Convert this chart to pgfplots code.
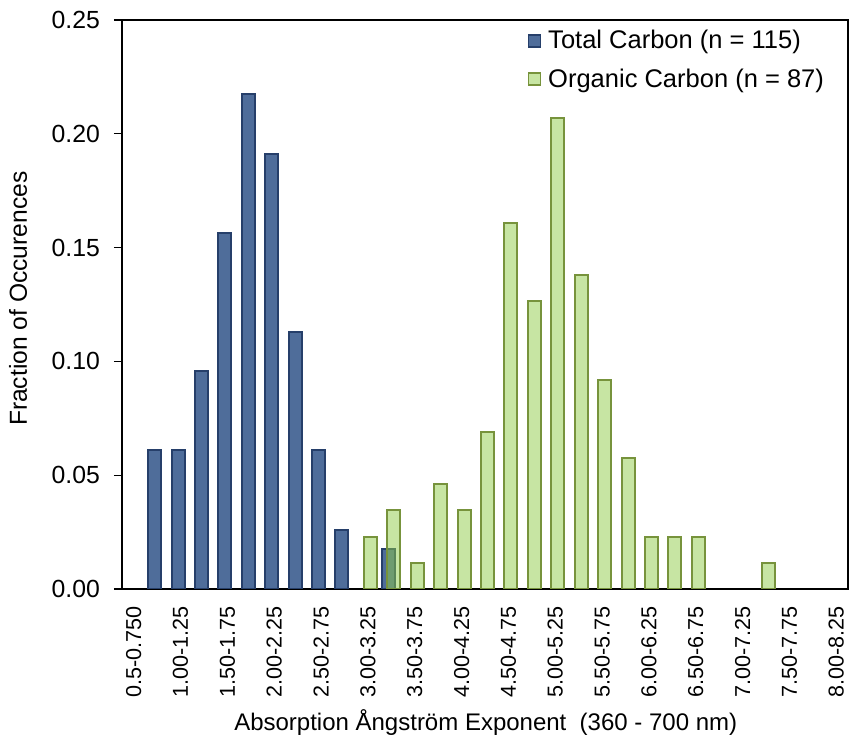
\documentclass[border=0pt]{standalone}
\usepackage{pgfplots}
\pgfplotsset{compat=1.18}
\usepackage{fontspec}
\setmainfont{Liberation Sans}
\definecolor{tcfill}{RGB}{79,109,154}
\definecolor{tcdraw}{RGB}{38,63,106}
\definecolor{ocfill}{RGB}{143,204,71}
\definecolor{ocdraw}{RGB}{119,147,60}
\begin{document}
\begin{tikzpicture}
\begin{axis}[
  name=ax,
  scale only axis, width=363pt, height=284.5pt,
  xmin=0, xmax=31, ymin=0, ymax=0.25,
  axis line style={line width=0.7pt},
  tick align=outside, tick pos=left,
  major tick length=4pt,
  xtick={0.5,2.5,...,30.5},
  xticklabels={0.5-0.750,1.00-1.25,1.50-1.75,2.00-2.25,2.50-2.75,3.00-3.25,3.50-3.75,4.00-4.25,4.50-4.75,5.00-5.25,5.50-5.75,6.00-6.25,6.50-6.75,7.00-7.25,7.50-7.75,8.00-8.25},
  xtick style={draw=none},
  xticklabel style={rotate=90, anchor=east, font=\fontsize{10.8}{12}\selectfont, xshift=-1pt},
  extra x ticks={0,1,...,31},
  extra x tick labels={},
  extra x tick style={major tick length=3pt, tick style={draw=black, line width=0.6pt}, tick label style={inner sep=0pt}},
  ytick={0,0.05,0.1,0.15,0.2,0.25},
  scaled y ticks=false,
  ytick style={draw=black, line width=0.6pt},
  yticklabel style={font=\fontsize{12.4}{14}\selectfont, xshift=-3.5pt, /pgf/number format/.cd, fixed, fixed zerofill, precision=2, assume math mode=true},
  ylabel={Fraction of Occurences},
  ylabel style={font=\fontsize{12.3}{14}\selectfont, at={(axis description cs:-0.143,0.51)}, anchor=center},
  xlabel={Absorption Ångström Exponent\ \ (360 - 700 nm)},
  xlabel style={font=\fontsize{12}{14}\selectfont, at={(axis description cs:0.501,-0.234)}, anchor=center},
  legend style={at={(axis description cs:0.977,0.99)}, anchor=north east, draw=none, fill=none, font=\fontsize{12.75}{15.5}\selectfont, row sep=4.5pt, inner sep=0pt, nodes={inner xsep=3.5pt}},
  legend cell align=left,
]
\addplot[ybar, bar width=6.5pt, bar shift=-1.25pt, fill=tcfill, draw=tcdraw, line width=1pt,
  legend image code/.code={\draw[fill=tcfill, draw=tcdraw, line width=0.8pt] (0pt,-3pt) rectangle (6pt,3pt);}]
coordinates {
(1.5,0.0609) (2.5,0.0609) (3.5,0.0957) (4.5,0.1565) (5.5,0.2174)
(6.5,0.1913) (7.5,0.1130) (8.5,0.0609) (9.5,0.0261) (11.5,0.0174)
};
\addlegendentry{Total Carbon (n = 115)}
\addplot[ybar, bar width=6.5pt, bar shift=1.25pt, fill=ocfill, fill opacity=0.5, draw=ocdraw, line width=1pt,
  legend image code/.code={\draw[fill=ocfill, fill opacity=0.5, draw=ocdraw, line width=0.8pt] (0pt,-3pt) rectangle (6pt,3pt);}]
coordinates {
(10.5,0.0230) (11.5,0.0345) (12.5,0.0115) (13.5,0.0460) (14.5,0.0345)
(15.5,0.0690) (16.5,0.1609) (17.5,0.1264) (18.5,0.2069) (19.5,0.1379)
(20.5,0.0920) (21.5,0.0575) (22.5,0.0230) (23.5,0.0230) (24.5,0.0230)
(27.5,0.0115)
};
\addlegendentry{Organic Carbon (n = 87)}
\end{axis}
\pgfresetboundingbox
\useasboundingbox ([shift={(-61pt,-76pt)}]ax.south west) rectangle ([shift={(0.5pt,10pt)}]ax.north east);
\end{tikzpicture}
\end{document}
